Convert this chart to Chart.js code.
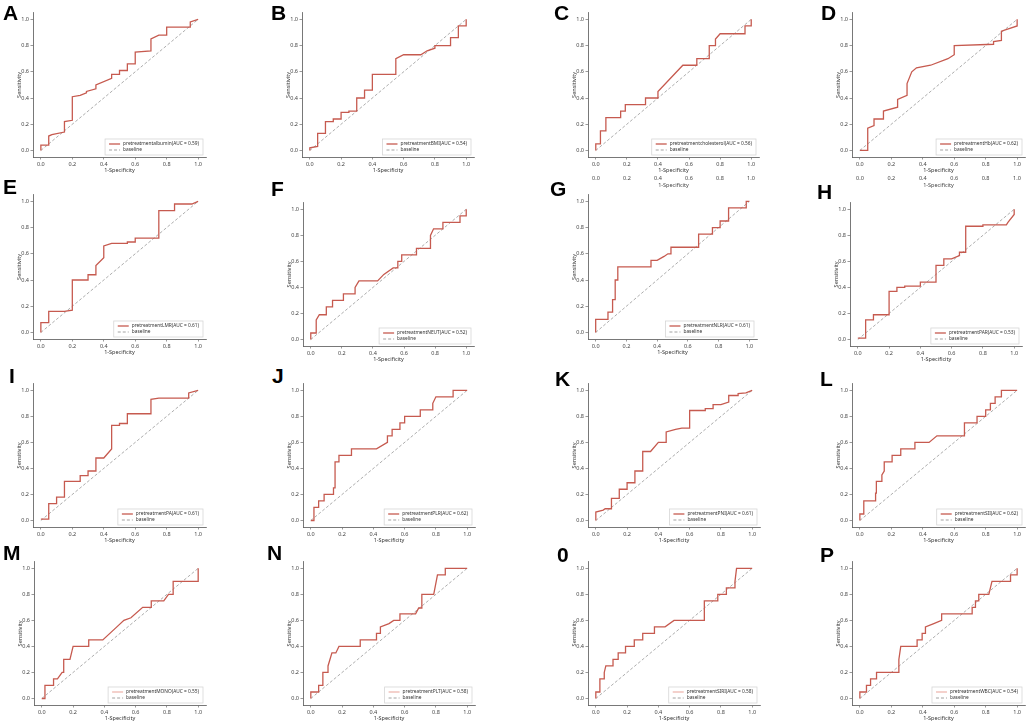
<!DOCTYPE html>
<html>
<head>
<meta charset="utf-8">
<script src="https://cdn.jsdelivr.net/npm/chart.js@4.4.1/dist/chart.umd.min.js"></script>
<style>
  body { margin: 0; background: #fff; width: 1026px; height: 724px; position: relative; overflow: hidden; }
  canvas { position: absolute; }
  .tag { position: absolute; font: bold 21px "Liberation Sans", Arial, sans-serif; color: #000; line-height: 1; }
  .ghost { position: absolute; font: 5.5px "Noto Sans", sans-serif; color: #444; transform: translateX(-50%); white-space: nowrap; }
</style>
</head>
<body>
<script>
// panel letters, marker names and AUC values
const panelTags = ['A', 'B', 'C', 'D', 'E', 'F', 'G', 'H', 'I', 'J', 'K', 'L', 'M', 'N', '0', 'P'];
const markers = ['albumin', 'BMI', 'cholesterol', 'Hb', 'LMR', 'NEUT', 'NLR', 'PAR',
                 'PA', 'PLR', 'PNI', 'SII', 'MONO', 'PLT', 'SIRI', 'WBC'];
const aucValues = [0.59, 0.54, 0.56, 0.62, 0.61, 0.52, 0.61, 0.53,
                   0.61, 0.62, 0.61, 0.62, 0.55, 0.58, 0.58, 0.54];
const tickValues = [0, 0.2, 0.4, 0.6, 0.8, 1.0];
const baseFpr = [0, 1];
const baseTpr = [0, 1];

// ROC points (1-specificity, sensitivity)
const fprA = [0,0,0.05,0.05,0.07,0.15,0.15,0.2,0.2,0.25,0.29,0.29,0.35,0.35,0.45,0.45,0.5,0.5,0.55,0.55,0.6,0.6,0.7,0.7,0.75,0.8,0.8,0.95,0.95,1];
const tprA = [0,0.04,0.04,0.11,0.12,0.14,0.22,0.23,0.41,0.42,0.44,0.45,0.47,0.5,0.55,0.58,0.58,0.61,0.61,0.66,0.66,0.75,0.76,0.85,0.88,0.88,0.94,0.94,0.98,1];
const fprB = [0,0,0.05,0.05,0.1,0.1,0.15,0.15,0.2,0.2,0.25,0.25,0.3,0.3,0.35,0.35,0.4,0.4,0.55,0.55,0.6,0.71,0.75,0.8,0.8,0.9,0.9,0.95,0.95,1,1];
const tprB = [0,0.02,0.03,0.13,0.13,0.22,0.22,0.24,0.24,0.29,0.29,0.3,0.3,0.4,0.4,0.46,0.46,0.58,0.58,0.7,0.73,0.73,0.76,0.78,0.8,0.8,0.86,0.86,0.95,0.95,1];
const fprC = [0,0,0.03,0.03,0.065,0.065,0.16,0.16,0.19,0.19,0.32,0.32,0.4,0.4,0.56,0.65,0.65,0.73,0.73,0.77,0.77,0.8,0.96,0.96,1,1];
const tprC = [0,0.05,0.05,0.15,0.15,0.25,0.25,0.3,0.3,0.35,0.35,0.4,0.4,0.45,0.65,0.65,0.7,0.7,0.8,0.8,0.85,0.89,0.89,0.95,0.95,1];
const fprD = [0,0.05,0.05,0.09,0.09,0.15,0.15,0.24,0.24,0.3,0.3,0.33,0.36,0.45,0.56,0.6,0.6,0.85,0.85,0.9,0.9,1,1];
const tprD = [0,0,0.17,0.19,0.24,0.24,0.3,0.33,0.39,0.42,0.51,0.6,0.63,0.65,0.7,0.73,0.8,0.81,0.83,0.84,0.91,0.95,1];
const fprE = [0,0,0.05,0.05,0.15,0.2,0.2,0.3,0.3,0.35,0.35,0.4,0.4,0.45,0.55,0.55,0.6,0.6,0.75,0.75,0.85,0.85,0.96,1];
const tprE = [0,0.075,0.075,0.16,0.16,0.17,0.4,0.4,0.44,0.44,0.51,0.57,0.66,0.68,0.68,0.69,0.69,0.72,0.72,0.93,0.93,0.98,0.98,1];
const fprF = [0,0,0.035,0.035,0.055,0.1,0.1,0.14,0.14,0.21,0.21,0.285,0.285,0.31,0.43,0.47,0.53,0.56,0.56,0.585,0.585,0.68,0.68,0.77,0.77,0.79,0.85,0.85,0.96,0.96,1,1];
const tprF = [0,0.05,0.05,0.15,0.19,0.19,0.25,0.25,0.3,0.3,0.35,0.35,0.4,0.45,0.45,0.5,0.55,0.55,0.6,0.6,0.65,0.65,0.7,0.7,0.8,0.85,0.85,0.9,0.9,0.95,0.95,1];
const fprG = [0,0,0.08,0.08,0.11,0.11,0.127,0.127,0.144,0.144,0.36,0.36,0.4,0.445,0.47,0.49,0.49,0.67,0.67,0.76,0.76,0.81,0.81,0.865,0.865,0.98,0.98,1];
const tprG = [0,0.1,0.1,0.155,0.155,0.25,0.25,0.4,0.4,0.5,0.5,0.55,0.55,0.58,0.6,0.6,0.65,0.65,0.75,0.75,0.8,0.8,0.85,0.85,0.95,0.95,1,1];
const fprH = [0,0.05,0.05,0.1,0.1,0.2,0.2,0.25,0.25,0.3,0.3,0.4,0.4,0.5,0.5,0.55,0.55,0.6,0.65,0.65,0.69,0.69,0.8,0.8,0.95,0.96,1,1];
const tprH = [0.01,0.01,0.15,0.15,0.19,0.19,0.37,0.37,0.4,0.4,0.41,0.41,0.44,0.44,0.57,0.57,0.62,0.62,0.645,0.67,0.67,0.87,0.87,0.88,0.88,0.9,0.96,1];
const fprI = [0,0.05,0.05,0.1,0.1,0.15,0.15,0.25,0.25,0.3,0.3,0.35,0.35,0.4,0.45,0.45,0.5,0.5,0.55,0.55,0.7,0.7,0.75,0.94,0.94,1];
const tprI = [0.01,0.01,0.13,0.13,0.18,0.18,0.3,0.3,0.345,0.345,0.38,0.38,0.48,0.48,0.55,0.73,0.73,0.745,0.745,0.82,0.82,0.93,0.94,0.94,0.98,1];
const fprJ = [0,0.02,0.02,0.05,0.05,0.085,0.085,0.145,0.145,0.155,0.155,0.18,0.18,0.26,0.26,0.42,0.49,0.49,0.52,0.52,0.57,0.57,0.6,0.6,0.7,0.7,0.78,0.78,0.8,0.91,0.91,1];
const tprJ = [0,0,0.1,0.1,0.15,0.15,0.2,0.2,0.25,0.25,0.45,0.45,0.5,0.5,0.55,0.55,0.6,0.65,0.65,0.7,0.7,0.75,0.75,0.8,0.8,0.85,0.85,0.9,0.95,0.95,1,1];
const fprK = [0,0,0.047,0.06,0.1,0.1,0.15,0.15,0.2,0.2,0.25,0.25,0.3,0.3,0.35,0.4,0.45,0.45,0.51,0.55,0.6,0.6,0.7,0.7,0.75,0.75,0.8,0.85,0.85,0.91,0.91,0.96,1];
const tprK = [0,0.065,0.08,0.09,0.09,0.17,0.17,0.24,0.24,0.29,0.29,0.38,0.38,0.53,0.53,0.6,0.6,0.68,0.7,0.71,0.71,0.845,0.845,0.86,0.86,0.89,0.89,0.91,0.96,0.96,0.975,0.98,1];
const fprL = [0,0,0.025,0.025,0.1,0.1,0.105,0.105,0.14,0.14,0.155,0.155,0.205,0.205,0.26,0.26,0.35,0.35,0.44,0.49,0.665,0.665,0.745,0.745,0.8,0.8,0.83,0.83,0.86,0.86,0.9,0.9,1];
const tprL = [0,0.05,0.05,0.15,0.15,0.21,0.21,0.3,0.3,0.35,0.38,0.45,0.45,0.5,0.5,0.55,0.55,0.6,0.6,0.65,0.65,0.75,0.75,0.8,0.8,0.85,0.85,0.9,0.9,0.95,0.95,1,1];
const fprM = [0,0.02,0.02,0.075,0.075,0.1,0.13,0.14,0.14,0.18,0.2,0.3,0.3,0.39,0.48,0.525,0.57,0.645,0.7,0.7,0.78,0.81,0.84,0.84,1,1];
const tprM = [0,0,0.1,0.1,0.15,0.15,0.2,0.2,0.3,0.3,0.4,0.4,0.45,0.45,0.55,0.6,0.62,0.7,0.7,0.75,0.75,0.8,0.8,0.9,0.9,1];
const fprN = [0,0,0.05,0.05,0.077,0.077,0.11,0.11,0.135,0.16,0.18,0.316,0.316,0.42,0.42,0.445,0.445,0.5,0.53,0.57,0.57,0.67,0.69,0.71,0.71,0.786,0.81,0.86,0.86,1];
const tprN = [0,0.05,0.05,0.1,0.1,0.2,0.2,0.25,0.35,0.35,0.4,0.4,0.45,0.45,0.5,0.5,0.55,0.575,0.6,0.6,0.65,0.65,0.695,0.695,0.8,0.8,0.95,0.95,1,1];
const fprO = [0,0,0.026,0.026,0.054,0.054,0.064,0.11,0.11,0.143,0.143,0.19,0.19,0.246,0.246,0.3,0.3,0.375,0.375,0.443,0.5,0.694,0.694,0.78,0.78,0.835,0.835,0.89,0.89,0.9,1];
const tprO = [0,0.05,0.05,0.15,0.15,0.2,0.25,0.25,0.3,0.3,0.35,0.35,0.4,0.4,0.45,0.45,0.5,0.5,0.55,0.55,0.6,0.6,0.75,0.75,0.8,0.8,0.85,0.85,0.9,1,1];
const fprP = [0,0,0.042,0.042,0.068,0.068,0.106,0.106,0.248,0.248,0.26,0.364,0.364,0.396,0.396,0.417,0.417,0.47,0.52,0.52,0.714,0.714,0.735,0.735,0.756,0.756,0.82,0.84,0.958,0.958,1,1];
const tprP = [0,0.05,0.05,0.1,0.1,0.15,0.15,0.2,0.2,0.3,0.4,0.4,0.45,0.45,0.5,0.5,0.55,0.575,0.6,0.65,0.65,0.7,0.7,0.75,0.75,0.8,0.8,0.9,0.9,0.95,0.95,1];

const fprs = [fprA, fprB, fprC, fprD, fprE, fprF, fprG, fprH, fprI, fprJ, fprK, fprL, fprM, fprN, fprO, fprP];
const tprs = [tprA, tprB, tprC, tprD, tprE, tprF, tprG, tprH, tprI, tprJ, tprK, tprL, tprM, tprN, tprO, tprP];

// page layout: pixel of x=0, x=1, y=1, y=0, then letter position
const boxes = [
  [41, 198, 17, 151, 3, 5], [310, 466, 17, 151, 271, 5], [596, 751, 17, 151, 554, 5], [860, 1017, 17, 151, 821, 5],
  [41, 198, 199, 333, 3, 179], [311, 466, 207, 340, 271, 181], [596, 750, 199, 333, 550, 181], [858, 1014, 207, 340, 817, 184],
  [41, 198, 388, 521, 9, 368], [311, 467, 388, 521, 272, 368], [596, 752, 388, 521, 555, 371], [860, 1017, 388, 521, 820, 371],
  [42, 198, 566, 699, 3, 545], [311, 467, 566, 699, 267, 545], [596, 752, 566, 699, 557, 547], [860, 1017, 566, 699, 820, 547]
];

const RED = '#c65a4f';
const PALE = '#efb9b1';
const GREY = '#8a8a8a';

Chart.defaults.font.family = '"Noto Sans", "DejaVu Sans", sans-serif';
Chart.defaults.color = '#444';

const legendBox = {
  id: 'legendBox',
  afterDatasetsDraw(chart, args, opts) {
    const { ctx, chartArea: a } = chart;
    ctx.save();
    ctx.font = '4.8px "Noto Sans", sans-serif';
    const sets = chart.data.datasets;
    const tw = Math.max(...sets.map(d => ctx.measureText(d.label).width));
    const w = tw + 22, h = 16;
    const x = a.right - w - 3, y = a.bottom - h - 2;
    ctx.fillStyle = '#fff';
    ctx.fillRect(x, y, w, h);
    ctx.strokeStyle = '#d6d6d6';
    ctx.lineWidth = 0.8;
    ctx.strokeRect(x, y, w, h);
    sets.forEach((d, i) => {
      const ly = y + 5 + i * 6;
      ctx.setLineDash(d.borderDash || []);
      ctx.strokeStyle = i === 0 ? opts.swatch : d.borderColor;
      ctx.lineWidth = i === 0 ? 1.3 : 0.8;
      ctx.beginPath();
      ctx.moveTo(x + 4, ly);
      ctx.lineTo(x + 15, ly);
      ctx.stroke();
      ctx.setLineDash([]);
      ctx.fillStyle = '#333';
      ctx.textBaseline = 'middle';
      ctx.fillText(d.label, x + 18, ly);
    });
    ctx.restore();
  }
};

const LEFT = 18, BOTTOM = 18, TOP = 2, RIGHT = 3;

function axis(title, isX) {
  return {
    type: 'linear',
    min: -0.05,
    max: 1.05,
    afterBuildTicks: s => { s.ticks = tickValues.map(v => ({ value: v })); },
    afterFit: s => { if (isX) s.height = BOTTOM; else s.width = LEFT; },
    ticks: { font: { size: 5.5 }, color: '#444', padding: 1.5, maxRotation: 0, autoSkip: false,
             callback: v => v.toFixed(1) },
    grid: { drawOnChartArea: false, drawTicks: true, tickLength: 2.5, color: '#555', lineWidth: 0.6 },
    border: { display: true, color: '#555', width: 0.8 },
    title: { display: true, text: title, font: { size: 5.5 }, color: '#333', padding: 1 }
  };
}

boxes.forEach((b, i) => {
  const [x0, x1, y1, y0, tx, ty] = b;
  const ux = x1 - x0, uy = y0 - y1;
  const areaL = x0 - 0.05 * ux, areaT = y1 - 0.05 * uy;
  const cv = document.createElement('canvas');
  const left = Math.round(areaL - LEFT), top = Math.round(areaT - TOP);
  cv.width = Math.round(LEFT + 1.1 * ux + RIGHT);
  cv.height = Math.round(TOP + 1.1 * uy + BOTTOM);
  cv.style.left = left + 'px';
  cv.style.top = top + 'px';
  document.body.appendChild(cv);

  const tag = document.createElement('div');
  tag.className = 'tag';
  tag.textContent = panelTags[i];
  tag.style.left = tx + 'px';
  tag.style.top = (ty - 3) + 'px';
  document.body.appendChild(tag);

  new Chart(cv.getContext('2d'), {
    type: 'line',
    data: {
      datasets: [
        {
          label: 'pretreatment' + markers[i] + '(AUC = ' + aucValues[i].toFixed(2) + ')',
          data: fprs[i].map((v, k) => ({ x: v, y: tprs[i][k] })),
          borderColor: RED, borderWidth: 1.3, pointRadius: 0, tension: 0
        },
        {
          label: 'baseline',
          data: baseFpr.map((v, k) => ({ x: v, y: baseTpr[k] })),
          borderColor: GREY, borderWidth: 0.7, borderDash: [3, 2], pointRadius: 0
        }
      ]
    },
    options: {
      responsive: false,
      animation: false,
      layout: { padding: { top: TOP, right: RIGHT, left: 0, bottom: 0 } },
      scales: { x: axis('1-Specificity', true), y: axis('Sensitivity', false) },
      plugins: {
        legend: { display: false },
        tooltip: { enabled: false },
        legendBox: { swatch: i >= 12 ? PALE : RED }
      }
    },
    plugins: [legendBox]
  });
});

// stray axis copies visible under panels C and D in the source figure
[[596, 751], [860, 1017]].forEach(([a, b]) => {
  tickValues.forEach(v => {
    const s = document.createElement('div');
    s.className = 'ghost';
    s.textContent = v.toFixed(1);
    s.style.left = (a + v * (b - a)) + 'px';
    s.style.top = '174px';
    document.body.appendChild(s);
  });
  const t = document.createElement('div');
  t.className = 'ghost';
  t.textContent = '1-Specificity';
  t.style.left = ((a + b) / 2) + 'px';
  t.style.top = '181px';
  document.body.appendChild(t);
});
</script>
</body>
</html>
